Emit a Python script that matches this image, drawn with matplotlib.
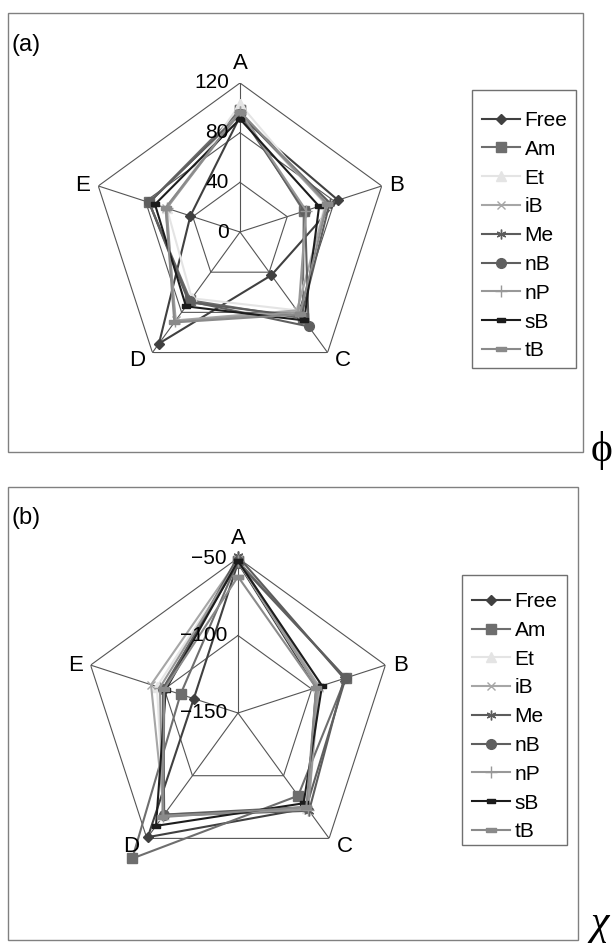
import numpy as np
import matplotlib.pyplot as plt
from matplotlib.patches import Rectangle

plt.rcParams['font.family'] = ['Liberation Sans', 'DejaVu Sans']

# Axis (category) names and series names
categories = ["A", "B", "C", "D", "E"]
series = ["Free", "Am", "Et", "iB", "Me", "nB", "nP", "sB", "tB"]

# phi values, one row per series (A, B, C, D, E)
phi_values = [
    [93, 83, 43, 111, 42],   # Free
    [98, 54, 86, 68, 77],    # Am
    [103, 72, 78, 66, 62],   # Et
    [96, 73, 78, 88, 63],    # iB
    [95, 76, 84, 70, 77],    # Me
    [95, 55, 94, 69, 77],    # nB
    [97, 56, 80, 89, 62],    # nP
    [91, 67, 88, 74, 72],    # sB
    [97, 74, 82, 90, 63],    # tB
]
phi_ticks = [0, 40, 80, 120]

# chi values, one row per series (A, B, C, D, E)
chi_values = [
    [-53, -97, -74, -51, -120],   # Free
    [-52, -77, -84, -34, -111],   # Am
    [-52, -96, -74, -69, -95],    # Et
    [-51, -95, -73, -69, -91],    # iB
    [-49, -78, -72, -68, -100],   # Me
    [-53, -77, -75, -69, -99],    # nB
    [-52, -96, -73, -68, -97],    # nP
    [-52, -93, -78, -60, -101],   # sB
    [-62, -97, -75, -67, -100],   # tB
]
chi_ticks = [-150, -100, -50]

# series styles
rect_small = [(-1, -0.5), (1, -0.5), (1, 0.5), (-1, 0.5), (-1, -0.5)]
colors = ["#404040", "#6e6e6e", "#e4e4e4", "#a6a6a6", "#5c5c5c",
          "#5f5f5f", "#989898", "#1c1c1c", "#8a8a8a"]
markers = ["D", "s", "^", "x", (6, 2, 0), "o", "+", rect_small, rect_small]
msizes = [5, 7, 7, 6, 7, 7, 8, 6, 7]

W, H = 613, 952
fig = plt.figure(figsize=(W / 100, H / 100), dpi=100)


def fx(x):
    return x / W


def fy(y):
    return 1 - y / H


def frame(x0, y0, x1, y1, col):
    fig.patches.append(Rectangle((fx(x0), fy(y1)), fx(x1 - x0), (y1 - y0) / H,
                                 transform=fig.transFigure, fill=False,
                                 edgecolor=col, lw=1))


# panel frames
frame(8, 13, 583, 452, "#808080")
frame(8, 487, 578, 940, "#808080")

label_off = [(0, 14), (11, 0), (11, -6), (-11, -6), (-11, 0)]


def radar(cx, cy, R, values, ticks, tick_text, leg_box, leg_top):
    ax = fig.add_axes([fx(cx - R), fy(cy + R), 2 * R / W, 2 * R / H],
                      projection="polar")
    ax.set_theta_zero_location("N")
    ax.set_theta_direction(-1)
    ax.set_ylim(ticks[0], ticks[-1])
    ax.axis("off")
    ang = np.linspace(0, 2 * np.pi, len(categories), endpoint=False)
    closed = np.append(ang, ang[0])
    # pentagon grid and spokes
    for t in ticks[1:]:
        ax.plot(closed, [t] * len(closed), color="#555555", lw=0.8)
    for a in ang:
        ax.plot([a, a], [ticks[0], ticks[-1]], color="#555555", lw=0.8)
    # tick labels on the A spoke
    for t, s in zip(ticks, tick_text):
        ax.annotate(s, xy=(0, t), xytext=(-8, 0), textcoords="offset points",
                    ha="right", va="center", fontsize=15)
    # category labels
    for a, c, off in zip(ang, categories, label_off):
        ax.annotate(c, xy=(a, ticks[-1]), xytext=off, textcoords="offset points",
                    ha="center", va="center", fontsize=16)
    handles = []
    for name, v, col, mk, ms in zip(series, values, colors, markers, msizes):
        v = list(v) + [v[0]]
        h, = ax.plot(closed, v, color=col, lw=1.5, marker=mk, markersize=ms,
                     markeredgecolor=col, markerfacecolor=col, clip_on=False,
                     label=name)
        handles.append(h)
    # legend: entries without frame, frame drawn separately
    x0, y0, x1, y1 = leg_box
    fig.legend(handles=handles, loc="upper left",
               bbox_to_anchor=(fx(x0 + 10), fy(leg_top)),
               fontsize=15, frameon=False,
               handlelength=1.8, labelspacing=0.47, borderaxespad=0,
               handletextpad=0.25, borderpad=0)
    frame(x0, y0, x1, y1, "#707070")
    return ax


radar(240, 232, 149, phi_values, phi_ticks, ["0", "40", "80", "120"],
      (472, 90, 576, 368), 111)
radar(238, 713, 155, chi_values, chi_ticks,
      ["\u2212150", "\u2212100", "\u221250"], (462, 575, 567, 845), 592)

fig.text(fx(26), fy(45), "(a)", fontsize=17, ha="center", va="center")
fig.text(fx(26), fy(518), "(b)", fontsize=17, ha="center", va="center")
fig.text(fx(602), fy(451), "\u03d5", fontsize=30, ha="center", va="center",
         family=["Liberation Serif", "DejaVu Serif"])
fig.text(fx(600), fy(924), "\u03c7", fontsize=30, ha="center", va="center",
         family=["Liberation Serif", "DejaVu Serif"], style="italic")

fig.savefig("out.png", dpi=100)
